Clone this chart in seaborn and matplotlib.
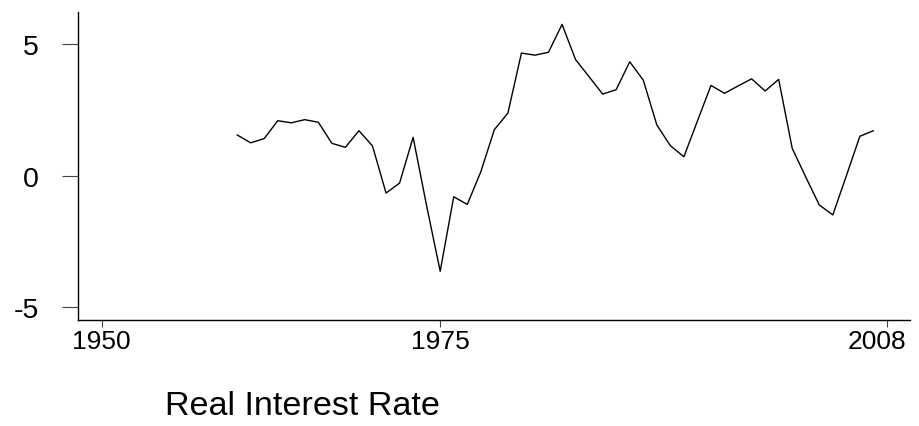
import matplotlib
matplotlib.use("Agg")
import matplotlib.pyplot as plt
import matplotlib.transforms as mtransforms
import seaborn as sns
import pandas as pd

years = list(range(1960, 2008))
real_rate = [1.55, 1.25, 1.41, 2.09, 2.01, 2.13, 2.03, 1.23, 1.08, 1.71,
             1.13, -0.66, -0.28, 1.46, -1.15, -3.63, -0.80, -1.09, 0.15, 1.75,
             2.38, 4.66, 4.58, 4.69, 5.75, 4.41, 3.76, 3.10, 3.27, 4.33,
             3.63, 1.93, 1.14, 0.72, 2.08, 3.43, 3.13, 3.41, 3.68, 3.22,
             3.66, 1.04, -0.05, -1.11, -1.49, 0.00, 1.50, 1.71]
x_ticks = [1950, 1975, 2008]
y_ticks = [-5, 0, 5]
title = "Real Interest Rate"

df = pd.DataFrame({"year": years, "rate": real_rate})

sns.set_style("white")
plt.rcParams["font.family"] = ["Liberation Sans", "DejaVu Sans"]

fig = plt.figure(figsize=(9.19, 4.27), dpi=100)
ax = fig.add_axes([78.3 / 919, 106.3 / 427, (910 - 78.3) / 919, (320.7 - 13) / 427])

sns.lineplot(data=df, x="year", y="rate", ax=ax, color="black", linewidth=1.0)

ax.set_xlim(1948.27, 2009.7)
ax.set_ylim(-5.47, 6.22)
ax.set_xticks(x_ticks)
ax.set_xticklabels([str(t) for t in x_ticks])
ax.set_yticks(y_ticks)
ax.set_yticklabels([str(t) for t in y_ticks])
ax.set_xlabel("")
ax.set_ylabel("")

for s in ["top", "right"]:
    ax.spines[s].set_visible(False)
for s in ["left", "bottom"]:
    ax.spines[s].set_color("black")
    ax.spines[s].set_linewidth(1.0)

ax.tick_params(axis="y", direction="out", length=11.5, width=0.8, color="#444444",
               labelsize=20.5, pad=17, labelcolor="black", left=True)
ax.tick_params(axis="x", direction="out", length=5, width=0.8, color="#444444",
               labelsize=19, pad=2, labelcolor="black", bottom=True)

# nudge last x label leftwards like the reference
lbl = ax.get_xticklabels()[-1]
lbl.set_transform(lbl.get_transform() + mtransforms.ScaledTranslation(-10 / 100, 0, fig.dpi_scale_trans))

fig.text(165 / 919, 12 / 427, title, fontsize=24.6, ha="left", va="baseline", color="black")

fig.savefig("out.png", dpi=100, facecolor="white")
